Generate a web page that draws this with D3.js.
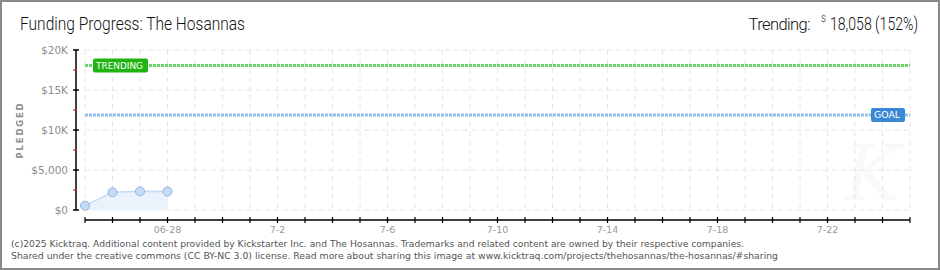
<!DOCTYPE html>
<html>
<head>
<meta charset="utf-8">
<script src="https://cdn.jsdelivr.net/npm/d3@7"></script>
<style>
  html, body { margin: 0; padding: 0; background: #fff; }
  svg { display: block; }
</style>
</head>
<body>
<svg id="chart" width="940" height="270"></svg>
<script>
// ---- data ----
const dates = ["2025-06-25", "2025-06-26", "2025-06-27", "2025-06-28"];
const pledged = [540, 2210, 2330, 2300];
const goal = 11880;
const trending = 18058;
const trendingPct = 152;
const xDomain = ["2025-06-25", "2025-07-25"];
const xTickLabelDates = ["2025-06-28", "2025-07-02", "2025-07-06", "2025-07-10", "2025-07-14", "2025-07-18", "2025-07-22"];
const xTickLabels = ["06-28", "7-2", "7-6", "7-10", "7-14", "7-18", "7-22"];
const yMajorTicks = [0, 5000, 10000, 15000, 20000];
const yMajorLabels = ["$0", "$5,000", "$10K", "$15K", "$20K"];
const yMinorTicks = [2500, 7500, 12500, 17500];

const parse = d3.utcParse("%Y-%m-%d");
const svg = d3.select("#chart");

// border
svg.append("rect").attr("x", 1).attr("y", 1).attr("width", 938).attr("height", 268)
  .attr("fill", "#fff").attr("stroke", "#8a8a8a").attr("stroke-width", 2);

const x = d3.scaleUtc().domain(xDomain.map(parse)).range([85, 910]);
const y = d3.scaleLinear().domain([0, 20000]).range([210, 50]);

// watermark
svg.append("text").attr("x", 872).attr("y", 200).attr("text-anchor", "middle")
  .attr("font-family", "DejaVu Serif").attr("font-style", "italic")
  .attr("font-size", 76).attr("fill", "#f9f9f9").text("K");

// grid
const days = d3.utcDay.range(parse(xDomain[0]), d3.utcDay.offset(parse(xDomain[1]), 1));
svg.append("g").selectAll("line").data(days).join("line")
  .attr("x1", d => x(d)).attr("x2", d => x(d)).attr("y1", y(20000)).attr("y2", y(0))
  .attr("stroke", "#e6e6e6").attr("stroke-dasharray", "5,4");
svg.append("g").selectAll("line").data(yMajorTicks).join("line")
  .attr("x1", x.range()[0]).attr("x2", x.range()[1]).attr("y1", d => y(d)).attr("y2", d => y(d))
  .attr("stroke", "#e6e6e6").attr("stroke-dasharray", "5,4");

// area + line
const pts = dates.map((d, i) => ({ date: parse(d), v: pledged[i] }));
svg.append("path").datum(pts)
  .attr("d", d3.area().x(d => x(d.date)).y0(y(0)).y1(d => y(d.v)))
  .attr("fill", "#eaf2fc");
svg.append("path").datum(pts)
  .attr("d", d3.line().x(d => x(d.date)).y(d => y(d.v)))
  .attr("fill", "none").attr("stroke", "#c4daf3").attr("stroke-width", 1.5);

// goal & trending lines
svg.append("line").attr("x1", x.range()[0]).attr("x2", x.range()[1])
  .attr("y1", y(trending)).attr("y2", y(trending))
  .attr("stroke", "#6ad46a").attr("stroke-width", 3).attr("stroke-dasharray", "3,1");
svg.append("line").attr("x1", x.range()[0]).attr("x2", x.range()[1])
  .attr("y1", y(goal)).attr("y2", y(goal))
  .attr("stroke", "#93bfec").attr("stroke-width", 3).attr("stroke-dasharray", "3,1");

// points
svg.append("g").selectAll("circle").data(pts).join("circle")
  .attr("cx", d => x(d.date)).attr("cy", d => y(d.v)).attr("r", 4.5)
  .attr("fill", "#c6dcf6").attr("stroke", "#90b2da").attr("stroke-width", 1);

// labels boxes
function badge(x0, yc, w, fill, label) {
  svg.append("rect").attr("x", x0).attr("y", yc - 7).attr("width", w).attr("height", 14)
    .attr("rx", 2).attr("fill", fill);
  svg.append("text").attr("x", x0 + 3).attr("y", yc + 3.5)
    .attr("font-family", "DejaVu Sans").attr("font-size", 9.5).attr("fill", "#fff")
    .attr("textLength", w - 8).attr("lengthAdjust", "spacingAndGlyphs").text(label);
}
badge(93, y(trending), 55, "#1fb412", "TRENDING");
badge(871, y(goal), 34, "#3a87d6", "GOAL");

// y axis
svg.append("line").attr("x1", 76).attr("x2", 76).attr("y1", y(20000)).attr("y2", y(0))
  .attr("stroke", "#000").attr("stroke-width", 1.5);
svg.append("g").selectAll("line").data(yMajorTicks).join("line")
  .attr("x1", 73).attr("x2", 79).attr("y1", d => y(d)).attr("y2", d => y(d))
  .attr("stroke", "#000").attr("stroke-width", 1.5);
svg.append("g").selectAll("line").data(yMinorTicks).join("line")
  .attr("x1", 73).attr("x2", 77).attr("y1", d => y(d)).attr("y2", d => y(d))
  .attr("stroke", "#e00").attr("stroke-width", 1);
svg.append("g").selectAll("text").data(yMajorTicks).join("text")
  .attr("x", 68).attr("y", d => y(d) + 4).attr("text-anchor", "end")
  .attr("font-family", "DejaVu Sans").attr("font-size", 10.5).attr("fill", "#8c8c8c")
  .text((d, i) => yMajorLabels[i]);
svg.append("text").attr("transform", "translate(23,130) rotate(-90)")
  .attr("text-anchor", "middle").attr("font-family", "DejaVu Sans").attr("font-weight", "bold")
  .attr("font-size", 8.5).attr("letter-spacing", 1.8).attr("fill", "#8c8c8c").text("PLEDGED");

// x axis
svg.append("line").attr("x1", x.range()[0]).attr("x2", x.range()[1]).attr("y1", 220).attr("y2", 220)
  .attr("stroke", "#000").attr("stroke-width", 1.5);
svg.append("g").selectAll("line").data(days).join("line")
  .attr("x1", d => x(d)).attr("x2", d => x(d)).attr("y1", 217).attr("y2", 223)
  .attr("stroke", "#000").attr("stroke-width", 1.2);
svg.append("g").selectAll("text").data(xTickLabelDates).join("text")
  .attr("x", d => x(parse(d))).attr("y", 233).attr("text-anchor", "middle")
  .attr("font-family", "DejaVu Sans").attr("font-size", 9.5).attr("fill", "#999")
  .text((d, i) => xTickLabels[i]);

// title
svg.append("text").attr("x", 20).attr("y", 30)
  .attr("font-family", "Roboto").attr("font-weight", 300).attr("font-size", 17.5).attr("fill", "#111")
  .attr("textLength", 225).attr("lengthAdjust", "spacingAndGlyphs")
  .text("Funding Progress: The Hosannas");

// trending header
svg.append("text").attr("x", 810).attr("y", 30).attr("text-anchor", "end")
  .attr("font-family", "Roboto").attr("font-weight", 300).attr("font-size", 16.5)
  .attr("letter-spacing", -0.6).attr("fill", "#111")
  .text("Trending:");
svg.append("text").attr("x", 821).attr("y", 22)
  .attr("font-family", "Roboto").attr("font-weight", 300).attr("font-size", 9).attr("fill", "#111")
  .text("$");
svg.append("text").attr("x", 830).attr("y", 30)
  .attr("font-family", "Roboto").attr("font-weight", 300).attr("font-size", 17.5).attr("fill", "#111")
  .attr("textLength", 88).attr("lengthAdjust", "spacingAndGlyphs")
  .text(d3.format(",")(trending) + " (" + trendingPct + "%)");

// footer
svg.append("text").attr("x", 11).attr("y", 247)
  .attr("font-family", "DejaVu Sans").attr("font-size", 9.5).attr("fill", "#555")
  .attr("textLength", 733).attr("lengthAdjust", "spacingAndGlyphs")
  .text("(c)2025 Kicktraq. Additional content provided by Kickstarter Inc. and The Hosannas. Trademarks and related content are owned by their respective companies.");
svg.append("text").attr("x", 11).attr("y", 259)
  .attr("font-family", "DejaVu Sans").attr("font-size", 9.5).attr("fill", "#555")
  .attr("textLength", 767).attr("lengthAdjust", "spacingAndGlyphs")
  .text("Shared under the creative commons (CC BY-NC 3.0) license. Read more about sharing this image at www.kicktraq.com/projects/thehosannas/the-hosannas/#sharing");
</script>
</body>
</html>
